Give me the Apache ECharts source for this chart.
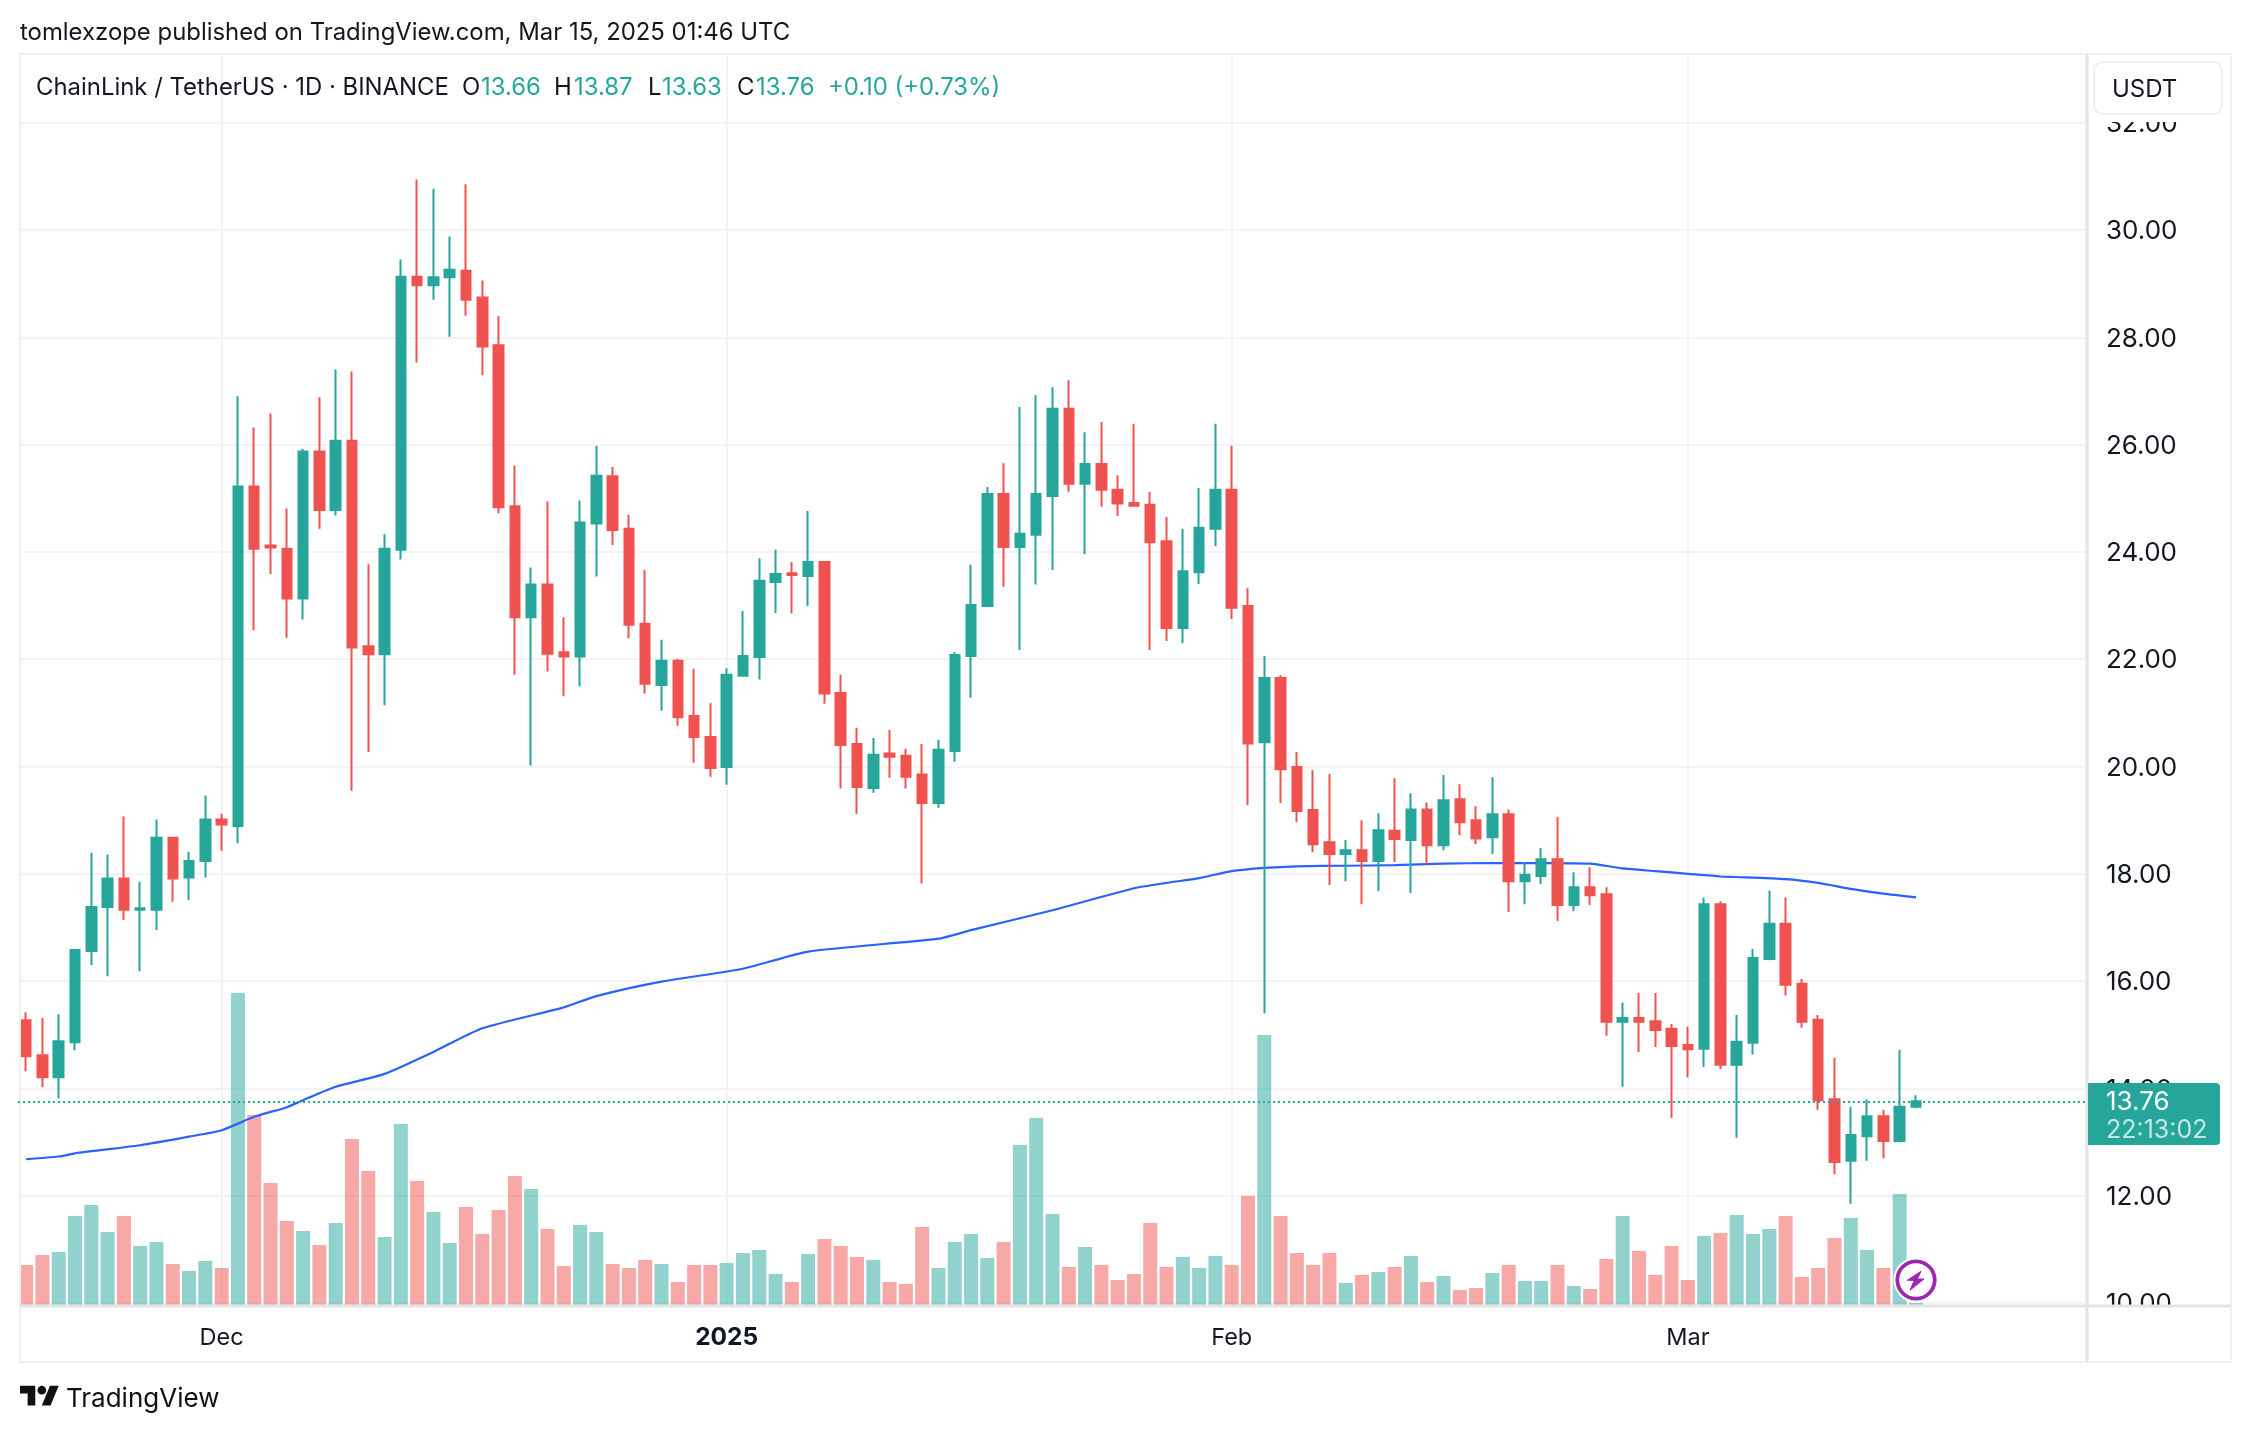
<!DOCTYPE html>
<html><head><meta charset="utf-8">
<style>html,body{margin:0;padding:0;background:#fff}#c{width:2250px;height:1432px}</style>
<script src="https://cdn.jsdelivr.net/npm/echarts@6/dist/echarts.min.js"></script>
</head><body><div id="c"></div>
<script>
// Daily LINK/USDT candles from 2024-11-19 to 2025-03-15
const startDate = '2024-11-19';
const opens = [15.27,14.62,14.21,14.86,16.56,17.38,17.91,17.33,17.33,18.67,17.93,18.24,19.01,
18.89,25.22,24.12,24.06,23.13,25.87,24.78,26.07,22.24,22.09,24.04,29.13,28.97,29.12,29.24,28.74,27.85,24.85,22.78,23.39,22.13,22.05,24.53,
25.41,24.43,22.66,21.52,21.97,20.94,20.55,19.99,21.69,22.04,23.44,23.60,23.55,23.81,21.37,20.42,19.60,20.24,20.20,19.85,19.32,20.29,22.06,22.99,25.08,24.09,24.32,25.04,26.67,25.27,25.64,25.16,24.91,24.88,24.20,22.58,23.62,24.43,
25.16,22.99,20.45,21.65,19.99,19.19,18.59,18.37,18.44,18.24,18.80,18.63,19.20,18.53,19.39,19.00,18.68,19.11,17.86,17.96,18.27,17.42,17.75,17.62,15.24,15.31,15.25,15.11,14.81,
14.74,17.43,14.44,14.85,16.41,17.07,15.95,15.28,13.80,12.65,13.11,13.48,13.02,13.66];
const closes = [14.60,14.21,14.88,16.58,17.38,17.91,17.33,17.36,18.67,17.91,18.24,19.01,18.92,
25.22,24.06,24.08,23.13,25.87,24.78,26.07,22.22,22.09,24.06,29.13,28.97,29.12,29.26,28.70,27.83,24.83,22.78,23.39,22.10,22.05,24.55,25.42,
24.41,22.64,21.54,21.97,20.92,20.55,19.97,21.71,22.06,23.46,23.59,23.57,23.81,21.36,20.40,19.62,20.22,20.18,19.81,19.32,20.31,22.08,23.01,25.08,24.09,24.34,25.08,26.67,25.27,25.64,25.16,24.90,24.86,24.18,22.58,23.64,24.45,25.16,
22.96,20.43,21.65,19.95,19.17,18.55,18.37,18.44,18.24,18.81,18.65,19.20,18.53,19.37,18.96,18.66,19.11,17.86,17.98,18.27,17.42,17.75,17.60,15.24,15.31,15.24,15.09,14.79,14.73,
17.43,14.44,14.87,16.43,17.07,15.93,15.24,13.78,12.63,13.13,13.48,13.02,13.66,13.76];
const highs = [15.42,15.31,15.38,16.60,18.39,18.36,19.07,17.85,19.01,18.69,18.41,19.46,19.12,
26.90,26.32,26.58,24.81,25.92,26.88,27.40,27.36,23.77,24.33,29.45,30.94,30.77,29.88,30.85,29.06,28.39,25.61,23.71,24.94,22.78,24.96,25.98,
25.58,24.69,23.66,22.36,22.01,21.82,21.18,21.83,22.90,23.88,24.04,23.81,24.76,23.83,21.71,20.72,20.53,20.68,20.33,20.42,20.50,22.13,23.76,25.21,25.65,26.70,26.92,27.07,27.20,26.23,26.42,25.43,26.39,25.12,24.65,24.43,25.19,26.39,
25.98,23.32,22.06,21.70,20.27,19.93,19.86,18.63,19.00,19.13,19.78,19.50,19.33,19.84,19.67,19.26,19.80,19.20,18.22,18.48,19.06,18.03,18.12,17.75,15.60,15.78,15.78,15.20,15.15,
17.56,17.49,15.37,16.60,17.69,17.56,16.04,15.37,14.57,13.66,13.80,13.60,14.72,13.87];
const lows = [14.32,14.02,13.81,14.71,16.30,16.09,17.14,16.19,16.95,17.48,17.51,17.93,18.43,
18.57,22.54,23.59,22.40,22.74,24.43,24.68,19.55,20.27,21.14,23.86,27.53,28.70,28.01,28.40,27.29,24.72,21.71,20.02,21.77,21.31,21.49,23.54,
24.13,22.39,21.36,21.04,20.76,20.07,19.81,19.66,21.69,21.62,22.86,22.85,22.99,21.17,19.59,19.12,19.51,19.79,19.59,17.82,19.23,20.09,21.28,22.99,23.35,22.17,23.39,23.66,25.12,23.96,24.84,24.67,24.84,22.17,22.34,22.30,23.40,24.11,
22.75,19.28,15.40,19.32,18.96,18.40,17.79,17.86,17.43,17.68,18.22,17.64,18.18,18.44,18.72,18.55,18.37,17.29,17.43,17.81,17.12,17.30,17.42,14.98,14.03,14.68,14.77,13.45,14.21,
14.40,14.36,13.08,14.63,16.39,15.73,15.13,13.60,12.40,11.85,12.65,12.70,12.99,13.63];
// Volume in relative units, same order as the candles
const volumes = [40,50,53,89,100,73,89,59,63,41,34,44,37,
312,190,122,84,74,60,82,166,134,68,181,124,93,62,98,71,95,129,116,76,39,80,73,
41,37,45,41,23,40,40,42,52,55,31,23,51,66,59,48,45,23,21,78,37,63,71,47,63,160,187,91,38,58,40,25,31,82,38,48,37,49,
40,109,270,89,52,40,52,22,30,33,38,49,23,29,15,17,32,40,24,24,40,19,16,46,89,54,30,59,25,
69,72,90,71,76,89,28,37,67,87,55,37,111,2];
// Moving average line, read at these candle indexes
const maIndex = [0,2,3,7,10,12,14,16,17,19,22,25,28,33,35,39,44,48,56,58,63,68,70,72,74,76,78,81,84,87,90,93,96,98,100,102,104,105,108,110,112,114,116];
const maValues = [12.68,12.73,12.79,12.94,13.10,13.22,13.47,13.65,13.78,14.03,14.27,14.68,15.12,15.51,15.72,15.99,16.23,16.55,16.79,16.95,17.32,17.73,17.83,17.92,18.05,18.11,18.14,18.15,18.16,18.19,18.20,18.20,18.19,18.10,18.05,18.00,17.95,17.94,17.90,17.83,17.72,17.63,17.56];
// Time-axis tick labels by candle index
const tickIndex = [12,43,74,102];
const tickLabels = ['Dec','2025','Feb','Mar'];
const lastPrice = 13.76;
const trailingBlanks = 10;

const up = '#26a69a', down = '#ef5350', ink = '#131722', frame = '#f0f0f1', axisEdge = '#e4e4e6';
const FONT = 'Inter, "Noto Sans", sans-serif';

const categories = [];
{ const t0 = Date.parse(startDate + 'T00:00:00Z');
  for (let i = 0; i < opens.length + trailingBlanks; i++) categories.push(new Date(t0 + i * 864e5).toISOString().slice(0,10)); }
const candleData = opens.map((o,i)=>[o,closes[i],lows[i],highs[i]]);
const volumeData = volumes.map((v,i)=>({value:v,itemStyle:{color:closes[i]>=opens[i]?up:down,opacity:0.5}}));
const maData = maIndex.map((x,i)=>[x,maValues[i]]);

const chart = echarts.init(document.getElementById('c'),null,{renderer:'canvas',width:2250,height:1432});

function txt(x,y,text,fill,size,extra){
  return Object.assign({type:'text',x:x,y:y,z:8,silent:true,style:{text:text,fill:fill,font:(size||23)+'px '+FONT,verticalAlign:'middle',align:'left'}},extra||{});
}
const LEGEND_Y = 87.5, LS = 23.9;
const logoScale = 1.09, logoX = 20, logoY = 1381.5;
const lp = (pts)=>pts.map(p=>[logoX+p[0]*logoScale,logoY+p[1]*logoScale]);
const graphic = [
  // column under the plot hides the lower half of the bottom price label
  {type:'rect',z:3,silent:true,shape:{x:2089,y:1307,width:140,height:52},style:{fill:'#fff'}},
  // area around the currency box hides the upper half of the top price label
  {type:'rect',z:3,silent:true,shape:{x:2089,y:55,width:140,height:67},style:{fill:'#fff'}},
  {type:'rect',z:3,silent:true,shape:{x:0,y:0,width:19,height:1432},style:{fill:'#fff'}},
  // frame
  {type:'rect',z:4,silent:true,shape:{x:20,y:54,width:2211,height:1308},style:{fill:'none',stroke:frame,lineWidth:2}},
  {type:'line',z:4,silent:true,shape:{x1:2087,y1:54,x2:2087,y2:1362},style:{stroke:axisEdge,lineWidth:3}},
  {type:'line',z:4,silent:true,shape:{x1:20,y1:1306,x2:2231,y2:1306},style:{stroke:axisEdge,lineWidth:3}},
  // currency box
  {type:'rect',z:5,silent:true,shape:{x:2094,y:62,width:128,height:52,r:9},style:{fill:'#fff',stroke:frame,lineWidth:2}},
  txt(2112,89.5,'USDT',ink,24),
  // last price tag
  {type:'rect',z:5,silent:true,shape:{x:2088,y:1083,width:132,height:62,r:[0,4,4,0]},style:{fill:up}},
  txt(2106,1102.5,'13.76','#fff',26),
  txt(2106,1130.5,'22:13:02','rgba(255,255,255,0.72)',25),
  // header
  txt(20,33,'tomlexzope published on TradingView.com, Mar 15, 2025 01:46 UTC',ink,LS),
  txt(36,LEGEND_Y,'ChainLink / TetherUS · 1D · BINANCE',ink,LS),
  txt(462,LEGEND_Y,'O',ink,LS), txt(481,LEGEND_Y,'13.66',up,LS),
  txt(554,LEGEND_Y,'H',ink,LS), txt(574,LEGEND_Y,'13.87',up,LS),
  txt(648,LEGEND_Y,'L',ink,LS), txt(662,LEGEND_Y,'13.63',up,LS),
  txt(737,LEGEND_Y,'C',ink,LS), txt(756,LEGEND_Y,'13.76',up,LS),
  txt(828,LEGEND_Y,'+0.10 (+0.73%)',up,LS),
  // footer logo
  {type:'polygon',z:8,silent:true,shape:{points:lp([[0,4],[14,4],[14,22],[7,22],[7,11],[0,11]])},style:{fill:'#111'}},
  {type:'polygon',z:8,silent:true,shape:{points:lp([[20,22],[28,22],[35.5,4],[27.5,4]])},style:{fill:'#111'}},
  {type:'circle',z:8,silent:true,shape:{cx:logoX+20*logoScale,cy:logoY+8*logoScale,r:4*logoScale},style:{fill:'#111'}},
  txt(66,1399.5,'TradingView','#111',26),
  // bolt badge
  {type:'circle',z:9,silent:true,shape:{cx:1916,cy:1280,r:22.5},style:{fill:'#fff'}},
  {type:'circle',z:9,silent:true,shape:{cx:1916,cy:1280,r:18.7},style:{fill:'#fff',stroke:'#9c27b0',lineWidth:3.8}},
  {type:'polygon',z:10,silent:true,shape:{points:[[1921,1271.3],[1907.3,1280.3],[1914.3,1280.3],[1910,1290.3],[1924,1279],[1917.3,1279]]},style:{fill:'#9c27b0',stroke:'#9c27b0',lineWidth:1,lineJoin:'round'}}
];

chart.setOption({
  animation:false,
  backgroundColor:'#fff',
  textStyle:{fontFamily:FONT},
  grid:[
    {left:18,width:2069,top:54,height:1249,containLabel:false},
    {left:18,width:2069,top:54,height:1251,containLabel:false}
  ],
  xAxis:[
    {type:'category',gridIndex:0,data:categories,boundaryGap:true,
     axisLine:{show:false},axisTick:{show:false},axisLabel:{show:false},splitLine:{show:false}},
    {type:'category',gridIndex:1,data:categories,boundaryGap:true,
     axisLine:{show:false},axisTick:{show:false},splitLine:{show:false},
     axisLabel:{show:true,margin:20.5,color:ink,fontFamily:FONT,fontSize:23.5,hideOverlap:false,
       interval:(i)=>tickIndex.includes(i),
       formatter:(v,i)=>{const k=tickIndex.indexOf(i);if(k<0)return '';return /^\d+$/.test(tickLabels[k])?'{b|'+tickLabels[k]+'}':tickLabels[k];},
       rich:{b:{fontWeight:'bold',fontSize:24.5,color:ink,fontFamily:FONT}}}}
  ],
  yAxis:[
    {type:'value',gridIndex:0,position:'right',min:10,max:33.28,interval:2,
     axisLine:{show:false},axisTick:{show:false},
     splitLine:{show:true,lineStyle:{color:'#f3f3f4',width:2}},
     axisLabel:{margin:19,color:ink,fontFamily:FONT,fontSize:26,hideOverlap:false,showMaxLabel:false,
       rich:{p:{color:ink,fontFamily:FONT,fontSize:26,padding:[3,0,0,0]}},
       formatter:(v)=>v>32.5?'':'{p|'+v.toFixed(2)+'}'}},
    {type:'value',gridIndex:1,min:0,max:1251,show:false,splitLine:{show:false}}
  ],
  series:[
    {type:'line',name:'gridlines',xAxisIndex:1,yAxisIndex:1,data:[],z:0,silent:true,symbol:'none',
     markLine:{z:0,silent:true,symbol:'none',animation:false,label:{show:false},
       lineStyle:{color:'#f3f3f4',width:2,type:'solid'},
       data:tickIndex.map(i=>({xAxis:categories[i]}))}},
    {type:'bar',name:'Volume',xAxisIndex:1,yAxisIndex:1,data:volumeData,barWidth:14,z:1,silent:true},
    {type:'line',name:'MA',xAxisIndex:0,yAxisIndex:0,data:maData,z:2,silent:true,symbol:'none',smooth:0.2,
     lineStyle:{color:'#2962ff',width:2.2}},
    {type:'candlestick',name:'LINKUSDT',xAxisIndex:0,yAxisIndex:0,data:candleData,barWidth:10,z:3,silent:true,
     itemStyle:{color:up,color0:down,borderColor:up,borderColor0:down,borderWidth:2},
     markLine:{silent:true,symbol:'none',animation:false,label:{show:false},
       lineStyle:{color:up,width:2,type:[2,3]},
       data:[{yAxis:lastPrice}]}}
  ],
  graphic:{elements:graphic}
});
</script></body></html>
